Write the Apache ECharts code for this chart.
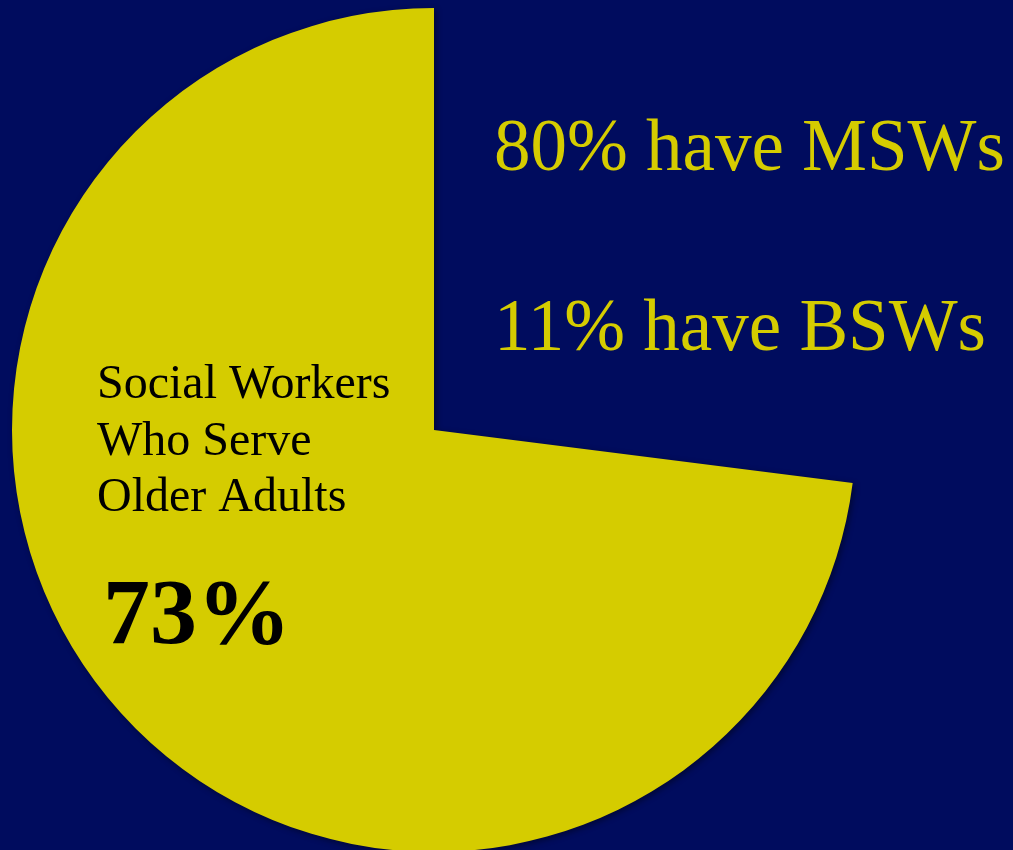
<!DOCTYPE html>
<html>
<head>
<meta charset="utf-8">
<script src="https://cdn.jsdelivr.net/npm/echarts@6/dist/echarts.min.js"></script>
<style>
html,body{margin:0;padding:0;background:#000C5E;}
#chart{width:1013px;height:850px;}
</style>
</head>
<body>
<div id="chart"></div>
<script>
// Data
var sliceNames = ['Social Workers Who Serve Older Adults', 'Other'];
var sliceValues = [73, 27];
var pieLabelLines = ['Social Workers', 'Who Serve', 'Older Adults'];
var pieValueLabel = '73%';
var sideNotes = ['80% have MSWs', '11% have BSWs'];

var YELLOW = '#D5CC00';
var BG = '#000C5E';

var chart = echarts.init(document.getElementById('chart'), null, {renderer: 'canvas'});

var graphics = [];
var leftBaselines = [401, 458, 514];
pieLabelLines.forEach(function (t, i) {
  graphics.push({
    type: 'text', left: 97, top: leftBaselines[i] - 40, z: 100,
    style: { text: t, font: '48px "Liberation Serif", "Times New Roman", serif', fill: '#000000' }
  });
});
graphics.push({
  type: 'text', left: 103, top: 651 - 79, z: 100,
  style: { text: pieValueLabel, font: 'bold 94px "Liberation Serif", "Times New Roman", serif', fill: '#000000' }
});
var rightBaselines = [175, 355];
sideNotes.forEach(function (t, i) {
  graphics.push({
    type: 'text', left: 494, top: rightBaselines[i] - 61, z: 100,
    style: { text: t, font: '73px "Liberation Serif", "Times New Roman", serif', fill: YELLOW }
  });
});

chart.setOption({
  backgroundColor: BG,
  animation: false,
  series: [{
    type: 'pie',
    z: 1,
    center: [434, 430],
    radius: 422,
    startAngle: 90,
    clockwise: false,
    label: { show: false },
    labelLine: { show: false },
    emphasis: { disabled: true },
    data: sliceNames.map(function (n, i) {
      return {
        name: n,
        value: sliceValues[i],
        itemStyle: i === 0 ? {
          color: YELLOW, borderWidth: 0,
          shadowBlur: 6, shadowColor: 'rgba(0,0,0,0.45)', shadowOffsetX: 2, shadowOffsetY: 2
        } : { color: 'rgba(0,0,0,0)', borderWidth: 0 }
      };
    })
  }],
  graphic: graphics
});
</script>
</body>
</html>
